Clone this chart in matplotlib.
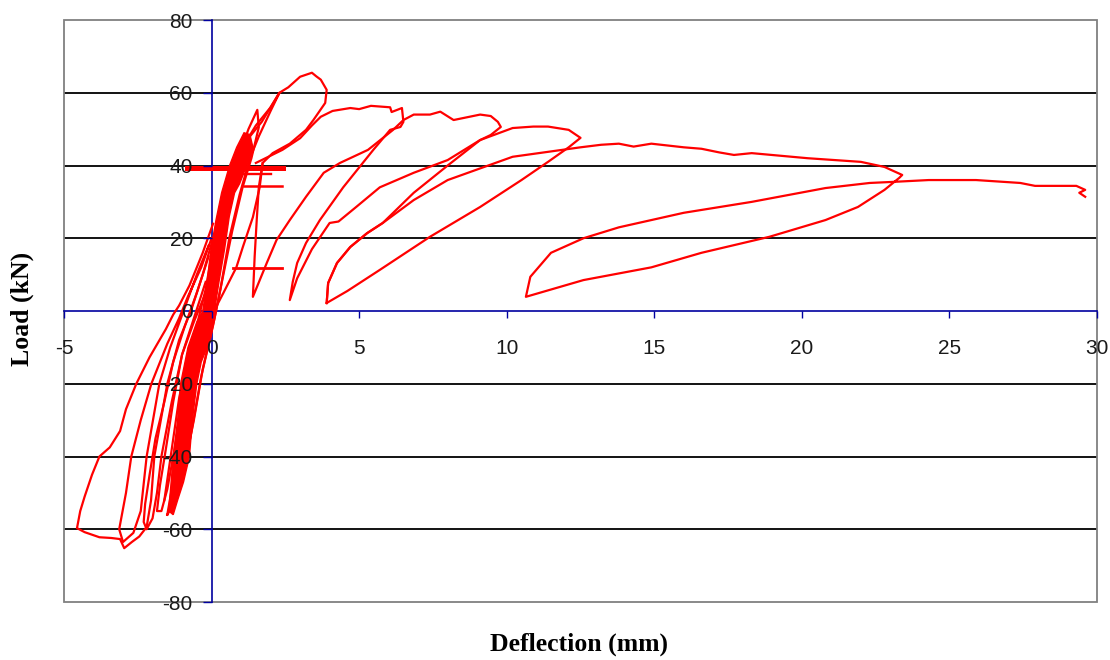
import matplotlib
matplotlib.use("Agg")
import matplotlib.pyplot as plt
from matplotlib.patches import Rectangle, Polygon

plt.rcParams['axes.unicode_minus'] = False

# ---- data (deflection mm, load kN) ----
x_ticks = [-5, 0, 5, 10, 15, 20, 25, 30]
y_ticks = [-80, -60, -40, -20, 0, 20, 40, 60, 80]
grid_levels = [-60, -40, -20, 20, 40, 60]

# solid elastic band through the origin
band_fill = [(-1.45, -55), (-1.35, -45), (-1.3, -40), (-1.15, -30), (-1.05, -20),
             (-0.8, -10), (-0.5, -3), (-0.3, 0), (-0.15, 8), (-0.02, 17), (0.15, 25),
             (0.34, 32.5), (0.61, 40), (0.85, 45), (1.1, 49), (1.3, 48.5), (1.4, 45),
             (1.19, 40), (0.95, 35), (0.78, 32.5), (0.6, 26), (0.44, 17), (0.25, 8),
             (0.1, 0), (-0.05, -8), (-0.35, -14), (-0.5, -20), (-0.65, -30),
             (-0.75, -40), (-0.95, -47), (-1.15, -52), (-1.3, -56)]

band_loop_a = [(-1.5, -56), (-1.2, -42), (-0.95, -28), (-0.6, -12), (-0.3, -2), (0.0, 10),
               (0.3, 24), (0.6, 34), (0.9, 42), (1.25, 50), (1.55, 55.3), (1.6, 50.5),
               (1.35, 42), (1.05, 34), (0.7, 22), (0.35, 8), (0.1, -2), (-0.3, -16),
               (-0.6, -30), (-0.9, -42), (-1.2, -52), (-1.5, -56)]
band_loop_b = [(-1.6, -52), (-1.35, -38), (-1.1, -24), (-0.8, -12), (-0.5, -4), (-0.2, 6),
               (0.1, 20), (0.45, 32), (0.8, 41), (1.2, 47), (1.5, 51), (2.0, 56), (2.3, 60),
               (2.0, 55), (1.6, 48), (1.3, 42), (0.95, 32), (0.6, 20), (0.3, 6),
               (0.05, -4), (-0.35, -18), (-0.7, -34), (-1.0, -46), (-1.3, -53)]
band_right = [(0.05, -0.5), (0.39, 4.8), (0.84, 12), (1.06, 17.6), (1.4, 25.8),
              (1.63, 34), (1.73, 40.7)]

# negative (reverse) loops
neg_outer = [(0.05, 24), (-0.3, 16), (-0.75, 7), (-1.1, 1.5), (-1.3, -1), (-1.55, -5),
             (-2.1, -12.7), (-2.55, -20), (-2.9, -27), (-3.1, -33), (-3.45, -37.5),
             (-3.8, -40), (-4.05, -45), (-4.3, -51), (-4.45, -55), (-4.56, -59.7),
             (-4.3, -60.8), (-3.8, -62.2), (-3.4, -62.4), (-3.1, -62.7), (-2.96, -65.2),
             (-2.7, -63.5), (-2.45, -62), (-2.2, -59.4), (-2.05, -52), (-1.94, -40),
             (-1.5, -20), (-1.1, -8), (-0.7, 0), (-0.3, 10), (0.05, 20)]
neg_loop2 = [(0.0, 20), (-0.35, 12), (-0.8, 4), (-1.1, -2), (-1.5, -9), (-2.04, -20),
             (-2.4, -30), (-2.72, -40), (-2.9, -50), (-3.13, -60), (-3.0, -63.5),
             (-2.65, -61), (-2.4, -55), (-2.2, -40), (-1.77, -20), (-1.4, -10),
             (-0.95, 0), (-0.5, 10), (-0.1, 18)]
neg_loop3 = [(-0.1, 15), (-0.5, 5), (-0.9, -4), (-1.3, -14), (-1.6, -25), (-1.9, -35),
             (-2.1, -45), (-2.25, -53), (-2.3, -58), (-2.2, -60), (-2.0, -57),
             (-1.85, -50), (-1.7, -40), (-1.35, -25), (-1.0, -12), (-0.6, -2), (-0.2, 8)]
neg_loop4 = [(-0.2, 5), (-0.6, -3), (-1.0, -12), (-1.3, -25), (-1.55, -38), (-1.75, -48),
             (-1.85, -55), (-1.7, -55), (-1.5, -49), (-1.3, -40), (-1.05, -28),
             (-0.8, -15), (-0.45, -5), (-0.1, 3)]

# positive cycles
pos_cycle_1 = [(0.8, 40), (1.2, 47), (1.7, 52), (2.3, 60), (2.6, 61.5), (3.0, 64.4),
               (3.4, 65.5), (3.55, 64.5), (3.7, 63.6), (3.9, 60.8), (3.85, 57.2),
               (3.45, 52.5), (3.2, 49.8), (2.65, 46), (2.07, 43.4), (1.73, 40.7),
               (1.6, 34), (1.53, 25), (1.46, 15), (1.4, 3.9), (1.87, 13.2), (2.2, 19.5),
               (2.65, 25), (3.2, 31.4), (3.8, 38), (4.35, 40.7), (5.3, 44.3),
               (6.15, 49.8), (6.5, 52.5), (6.85, 54), (7.4, 54), (7.75, 54.8), (8.2, 52.5),
               (9.1, 54), (9.46, 53.6), (9.7, 52), (9.8, 50.6), (9.46, 48.4), (9.1, 47),
               (8.0, 40), (6.85, 32.5), (5.8, 24.2), (5.27, 21.4), (4.7, 17.6),
               (4.25, 13.2), (3.95, 7.7), (3.9, 2.2)]
pos_cycle_2 = [(1.5, 40.7), (2.4, 44.3), (3.0, 47.5), (3.4, 51), (3.7, 53.4), (4.1, 55),
               (4.7, 55.8), (5.0, 55.5), (5.4, 56.4), (6.05, 56), (6.1, 54.7), (6.45, 55.8),
               (6.5, 52), (6.4, 50.6), (6.05, 49.8), (5.48, 44.3), (4.46, 34), (3.67, 25),
               (3.2, 18.7), (2.9, 13.2), (2.75, 8), (2.65, 3.0), (2.9, 9), (3.4, 17),
               (4.0, 24.2), (4.3, 24.6), (4.9, 28.6), (5.7, 34), (6.85, 38), (8.0, 41.5),
               (9.1, 47), (10.2, 50.3), (10.9, 50.7), (11.4, 50.7), (12.1, 49.8),
               (12.5, 47.6), (12.1, 45), (11.4, 41), (10.5, 36), (9.1, 28.6), (7.4, 20.4),
               (5.7, 11.3), (4.6, 5.5), (3.9, 2.2)]
pos_cycle_3 = [(3.9, 2.2), (3.95, 7.7), (4.25, 13.2), (4.7, 17.6), (5.27, 21.4),
               (5.8, 24.2), (6.85, 30.5), (8.0, 36), (10.2, 42.4), (12.5, 45),
               (13.2, 45.7), (13.8, 46), (14.3, 45.2), (14.9, 46), (16.0, 45), (16.6, 44.6),
               (17.2, 43.6), (17.7, 42.9), (18.3, 43.4), (20.2, 42), (22.0, 41),
               (22.8, 39.6), (23.4, 37.4), (23.3, 36.6), (22.8, 33.3), (21.9, 28.6),
               (20.8, 25), (18.9, 20.4), (16.6, 16), (14.9, 12), (12.6, 8.5),
               (10.65, 3.9), (10.8, 9.4), (11.5, 16), (12.6, 20), (13.8, 23), (16.0, 27),
               (18.3, 30), (20.8, 33.8), (22.3, 35.2), (23.1, 35.5), (24.3, 36),
               (25.9, 36), (27.4, 35.2), (27.9, 34.4), (29.3, 34.4), (29.6, 33.3),
               (29.4, 32.5), (29.6, 31.4)]

# flat jumps where the gauge was reset at constant load
jump_top = [(-0.82, 39.3), (2.42, 39.3)]
jump_mid1 = [(0.84, 37.6), (2.0, 37.6)]
jump_mid2 = [(1.1, 34.4), (2.4, 34.4)]
jump_low = [(0.72, 11.8), (2.37, 11.8)]

RED = '#ff0000'
BLUE = '#0000a0'

fig = plt.figure(figsize=(11.1, 6.6), dpi=100)
ax = fig.add_axes([64 / 1110, 58 / 660, 1033 / 1110, 582 / 660])
ax.set_xlim(-5, 30)
ax.set_ylim(-80, 80)

for lvl in grid_levels:
    ax.axhline(lvl, color='black', lw=1.3, zorder=1)

ax.add_patch(Polygon(band_fill, closed=True, facecolor=RED, edgecolor=RED, lw=1, zorder=3))

thin = [band_loop_a, band_loop_b, band_right, neg_outer, neg_loop2, neg_loop3,
        neg_loop4, pos_cycle_1, pos_cycle_2, pos_cycle_3]
for seg in thin:
    xs, ys = zip(*seg)
    ax.plot(xs, ys, color=RED, lw=1.6, solid_joinstyle='round', zorder=3)

for seg, w in [(jump_top, 3.6), (jump_mid1, 1.7), (jump_mid2, 1.8), (jump_low, 2.0)]:
    xs, ys = zip(*seg)
    ax.plot(xs, ys, color=RED, lw=w, zorder=3)

# Excel style: axes crossing at zero, grey plot frame
for side in ['top', 'right']:
    ax.spines[side].set_visible(False)
ax.spines['left'].set_position('zero')
ax.spines['bottom'].set_position('zero')
for side in ['left', 'bottom']:
    ax.spines[side].set_color(BLUE)
    ax.spines[side].set_linewidth(1.2)
    ax.spines[side].set_zorder(2)
ax.add_patch(Rectangle((0, 0), 1, 1, transform=ax.transAxes, fill=False,
                       edgecolor='#808080', lw=1.3, zorder=2, clip_on=False))

ax.set_xticks(x_ticks)
ax.set_yticks(y_ticks)
ax.tick_params(axis='y', direction='out', length=6.5, width=1, color=BLUE, pad=7,
               labelsize=15, labelcolor='#1a1a1a')
ax.tick_params(axis='x', direction='out', length=5, width=1, color=BLUE, pad=15,
               labelsize=15, labelcolor='#1a1a1a')
for lab in ax.get_xticklabels() + ax.get_yticklabels():
    lab.set_family('Liberation Sans')
ax.xaxis.set_zorder(4)
ax.yaxis.set_zorder(4)

fig.text(579 / 1110, 1 - 644 / 660, 'Deflection (mm)', ha='center', va='center',
         family='Liberation Serif', weight='bold', fontsize=18.5)
fig.text(22 / 1110, 1 - 309 / 660, 'Load (kN)', ha='center', va='center', rotation=90,
         family='Liberation Serif', weight='bold', fontsize=18.5)

fig.savefig('out.png', dpi=100)
